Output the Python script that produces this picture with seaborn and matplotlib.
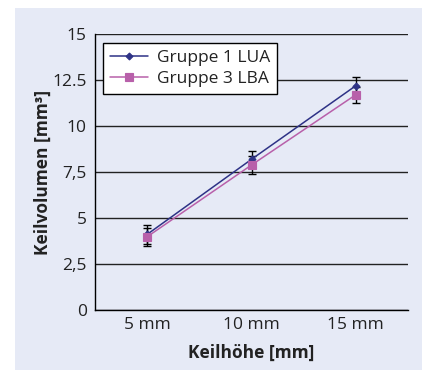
import matplotlib
matplotlib.use("Agg")
import matplotlib.pyplot as plt
import seaborn as sns
import pandas as pd
from matplotlib.patches import Rectangle
from matplotlib.ticker import FixedLocator, NullFormatter

categories = ["5 mm", "10 mm", "15 mm"]
g1_name = "Gruppe 1 LUA"
g3_name = "Gruppe 3 LBA"
g1_values = [4.11, 8.19, 12.19]
g1_err = [0.52, 0.45, 0.49]
g3_values = [3.98, 7.88, 11.70]
g3_err = [0.49, 0.50, 0.43]
y_ticks = [0, 2.5, 5, 7.5, 10, 12.5, 15]
y_tick_labels = ["0", "2,5", "5", "7,5", "10", "12.5", "15"]
x_label = "Keilhöhe [mm]"
y_label = "Keilvolumen [mm³]"

BG = "#E6EAF6"
C1 = "#2E3286"
C3 = "#B860AA"
TXT = "#222222"
FS = 12.5

sns.set_theme(style="white")
plt.rcParams["font.family"] = ["Open Sans", "DejaVu Sans"]

df = pd.DataFrame({
    "Keilhöhe": categories * 2,
    "Wert": g1_values + g3_values,
    "Gruppe": [g1_name] * 3 + [g3_name] * 3,
})

fig = plt.figure(figsize=(4.22, 3.70), dpi=100)
fig.patch.set_facecolor("white")
fig.patches.append(Rectangle((15 / 422, 0), 1 - 15 / 422, 1 - 8 / 370,
                             transform=fig.transFigure, facecolor=BG,
                             edgecolor="none", zorder=-10))
ax = fig.add_axes([95 / 422, 1 - 310 / 370, (408 - 95) / 422, (310 - 34) / 370])
ax.set_facecolor("none")

sns.pointplot(data=df, x="Keilhöhe", y="Wert", hue="Gruppe", order=categories,
              hue_order=[g1_name, g3_name], palette=[C1, C3],
              markers=["D", "s"], linestyles=["-", "-"], errorbar=None,
              dodge=False, ax=ax, linewidth=1.1, markersize=4)

for line in ax.lines:
    if line.get_marker() == "D":
        line.set_markersize(3.5)
    elif line.get_marker() == "s":
        line.set_markersize(5.5)

xs = list(range(len(categories)))
ax.errorbar(xs, g1_values, yerr=g1_err, fmt="none", ecolor="black",
            elinewidth=1.0, capsize=3, capthick=1.0, zorder=1)
ax.errorbar(xs, g3_values, yerr=g3_err, fmt="none", ecolor="black",
            elinewidth=1.0, capsize=3, capthick=1.0, zorder=1)

ax.set_xlim(-0.5, 2.5)
ax.set_ylim(0, 15)
ax.set_yticks(y_ticks)
ax.set_yticklabels(y_tick_labels)
ax.xaxis.set_major_locator(FixedLocator([-0.5, 0.5, 1.5, 2.5]))
ax.xaxis.set_major_formatter(NullFormatter())
ax.set_xticks([0, 1, 2], minor=True)
ax.set_xticklabels(categories, minor=True)
ax.tick_params(axis="x", which="major", direction="out", length=5, width=1, color="black")
ax.tick_params(axis="x", which="minor", length=0, pad=5, labelsize=FS, labelcolor=TXT)
ax.tick_params(axis="y", direction="out", length=5, width=1, color="black",
               labelsize=FS, labelcolor=TXT, pad=1)

ax.yaxis.grid(True, color=TXT, linewidth=1.0)
ax.xaxis.grid(False)
ax.set_axisbelow(True)
for s in ["top", "right"]:
    ax.spines[s].set_visible(False)
for s in ["left", "bottom"]:
    ax.spines[s].set_color("black")
    ax.spines[s].set_linewidth(1.0)

ax.set_xlabel(x_label, fontsize=FS, fontweight="bold", color=TXT, labelpad=8)
ax.set_ylabel(y_label, fontsize=12.5, fontweight="bold", color=TXT, labelpad=0)

leg = ax.legend(loc="upper left", bbox_to_anchor=(0.026, 0.968), fontsize=FS,
                frameon=True, fancybox=False, edgecolor="black", facecolor="white",
                framealpha=1, borderpad=0.4, handlelength=2.2, labelspacing=0.3,
                handletextpad=0.5, borderaxespad=0)
leg.get_frame().set_linewidth(1.0)
for t in leg.get_texts():
    t.set_color(TXT)

fig.savefig("out.png", dpi=100)
